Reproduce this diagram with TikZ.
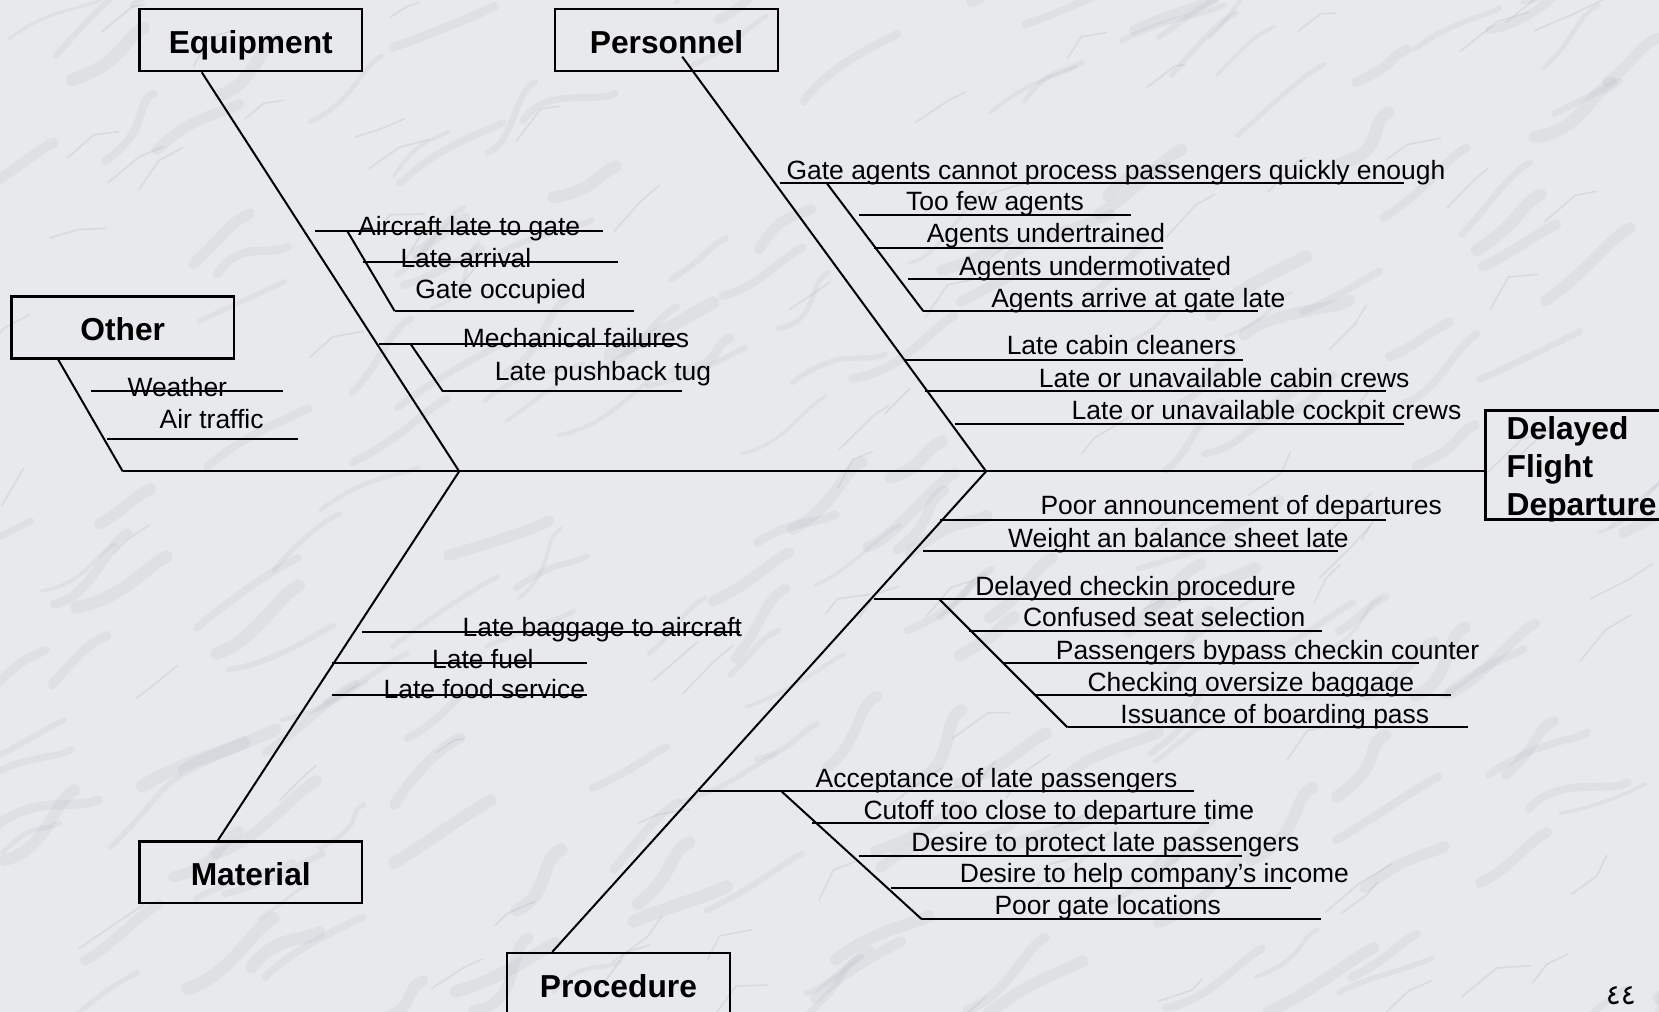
\documentclass[tikz,border=0pt]{standalone}
\usepackage{fontspec}
\setmainfont{Liberation Sans}
\newfontfamily\arabicfont[Script=Arabic]{DejaVu Sans}
\TeXXeTstate=1
\definecolor{marble}{HTML}{E7E9EC}
\definecolor{vein}{HTML}{959AA3}

\begin{document}
\begin{tikzpicture}[x=0.53pt, y=-0.53pt, line width=1pt,
    box/.style = {draw, line width=1.1pt, inner sep=0pt, font=\fontsize{15.9}{19.1}\selectfont\bfseries},
    cause/.style = {box, minimum width=111.4pt, minimum height=31pt, text height=13.4pt, text depth=0pt},
    lbl/.style = {anchor=base west, inner sep=0pt, yshift=-0.8pt, font=\fontsize{13.25}{16}\selectfont}]
    \fill[marble] (0,0) rectangle (1568,956);
    \useasboundingbox (0,0) rectangle (1568,956);
    % marble veins
    \pgfmathsetseed{17}
    \foreach \i in {1,...,220} {
        \pgfmathsetmacro{\vx}{rnd*1620-40}
        \pgfmathsetmacro{\vy}{rnd*1010-20}
        \pgfmathsetmacro{\vw}{1.5+rnd*5}
        \draw[vein, opacity=0.1, line width=\vw pt, line cap=round, line join=round]
            (\vx,\vy) .. controls ++(20+rnd*30, -5-rnd*30) and ++(-20, 10) .. ++(40+rnd*60, -25-rnd*45);
    }
    \foreach \i in {1,...,90} {
        \pgfmathsetmacro{\vx}{rnd*1620-40}
        \pgfmathsetmacro{\vy}{rnd*1010-20}
        \draw[vein, opacity=0.18, line width=0.8pt, line cap=round]
            (\vx,\vy) -- ++(10+rnd*25, -8-rnd*25) -- ++(8+rnd*25, -rnd*20);
    }
    % category boxes and the effect
    \node[cause] (equip) at (237,38) {Equipment};
    \node[cause] (pers) at (630,38) {Personnel};
    \node[cause] (other) at (116,309.5) {Other};
    \node[cause] (mat) at (237,824.5) {Material};
    \node[cause] (proc) at (584.5,930) {Procedure};
    \node[box, anchor=north west, align=left, text width=100pt, inner xsep=10.6pt, minimum height=54.6pt, text depth=37.3pt] (effect) at (1403,387) {Delayed\\Flight\\Departure};
    % spine and main bones
    \coordinate (tail) at (116,445.5);
    \coordinate (tipE) at (434,445.5);
    \coordinate (tipP) at (932,445.5);
    \draw (tail) -- (tipP) -- (tipP -| effect.west);
    \draw ([xshift=23.9pt]other.south west) -- (tail);
    \draw ([xshift=31.7pt]equip.south west) -- (tipE);
    \draw ([xshift=39.8pt]mat.north west) -- (tipE);
    \draw ([xshift=64.1pt, yshift=7.8pt]pers.south west) -- (tipP);
    \draw ([xshift=23.1pt]proc.north west) -- (tipP);
    % other
    \node[lbl] (o1) at (119.6,373) {Weather};
    \node[lbl] (o2) at (150,403) {Air traffic};
    \draw (86,370) -- (267,370);
    \draw (101,415) -- (282,415);
    % equipment
    \node[lbl] (e1) at (337.6,221) {Aircraft late to gate};
    \node[lbl] (e2) at (377.6,251) {Late arrival};
    \node[lbl] (e3) at (391.6,281) {Gate occupied};
    \node[lbl] (e4) at (436.5,327) {Mechanical failures};
    \node[lbl] (e5) at (466.8,358) {Late pushback tug};
    \draw (297.5,218) -- (569.5,218);
    \draw (343,248) -- (584.5,248);
    \draw (373,294) -- (599.4,294);
    \draw (358,325) -- (640,325);
    \draw (418.6,370) -- (645,370);
    \draw (328,218) -- (373,294);
    \draw (388,325) -- (418.6,370);
    % personnel
    \node[lbl] (p1) at (742.5,168) {Gate agents cannot process passengers quickly enough};
    \node[lbl] (p2) at (855.4,197) {Too few agents};
    \node[lbl] (p3) at (875,228) {Agents undertrained};
    \node[lbl] (p4) at (905.6,259) {Agents undermotivated};
    \node[lbl] (p5) at (936,289) {Agents arrive at gate late};
    \node[lbl] (p6) at (950.6,334) {Late cabin cleaners};
    \node[lbl] (p7) at (981,364.5) {Late or unavailable cabin crews};
    \node[lbl] (p8) at (1012,394.5) {Late or unavailable cockpit crews};
    \draw (736.8,173) -- (1326.5,173);
    \draw (812,203) -- (1069,203);
    \draw (826.4,234) -- (1099,234);
    \draw (858,264) -- (1144,264);
    \draw (872.6,294) -- (1189,294);
    \draw (855,340) -- (1175,340);
    \draw (873.8,370) -- (1310,370);
    \draw (903,401) -- (1326.5,401);
    \draw (781.3,173) -- (872.6,294);
    % procedure
    \node[lbl] (r1) at (982.5,485) {Poor announcement of departures};
    \node[lbl] (r2) at (951.8,516) {Weight an balance sheet late};
    \node[lbl] (r3) at (920.8,561) {Delayed checkin procedure};
    \node[lbl] (r4) at (966,591) {Confused seat selection};
    \node[lbl] (r5) at (997,622) {Passengers bypass checkin counter};
    \node[lbl] (r6) at (1027,652) {Checking oversize baggage};
    \node[lbl] (r7) at (1058,682) {Issuance of boarding pass};
    \draw (888,491) -- (1310,491);
    \draw (872.7,521) -- (1265,521);
    \draw (826,566.5) -- (1204,566.5);
    \draw (915.7,596.5) -- (1249.5,596.5);
    \draw (947.8,627) -- (1341,627);
    \draw (977.8,657) -- (1371.5,657);
    \draw (1009,687.5) -- (1387,687.5);
    \draw (888,566.5) -- (1009,687.5);
    \node[lbl] (r8) at (770,743) {Acceptance of late passengers};
    \node[lbl] (r9) at (815.2,773) {Cutoff too close to departure time};
    \node[lbl] (r10) at (860.4,803) {Desire to protect late passengers};
    \node[lbl] (r11) at (906.3,833) {Desire to help company’s income};
    \node[lbl] (r12) at (939,863) {Poor gate locations};
    \draw (660.7,748) -- (1128.6,748);
    \draw (767.9,778) -- (1143,778);
    \draw (811.5,809) -- (1173.8,809);
    \draw (842,839) -- (1219.7,839);
    \draw (871.4,869) -- (1248.6,869);
    \draw (738.7,748) -- (871.4,869);
    % material
    \node[lbl] (m1) at (436.4,600) {Late baggage to aircraft};
    \node[lbl] (m2) at (407.5,630) {Late fuel};
    \node[lbl] (m3) at (361.6,659) {Late food service};
    \draw (342,597) -- (699,597);
    \draw (313.4,627) -- (554.5,627);
    \draw (313.4,657) -- (554.5,657);
    % page number
    \node[font=\arabicfont\fontsize{14}{15}\selectfont, inner sep=0pt] (pg) at (1532,941) {\beginR ٤٤\endR};
\end{tikzpicture}
\end{document}
